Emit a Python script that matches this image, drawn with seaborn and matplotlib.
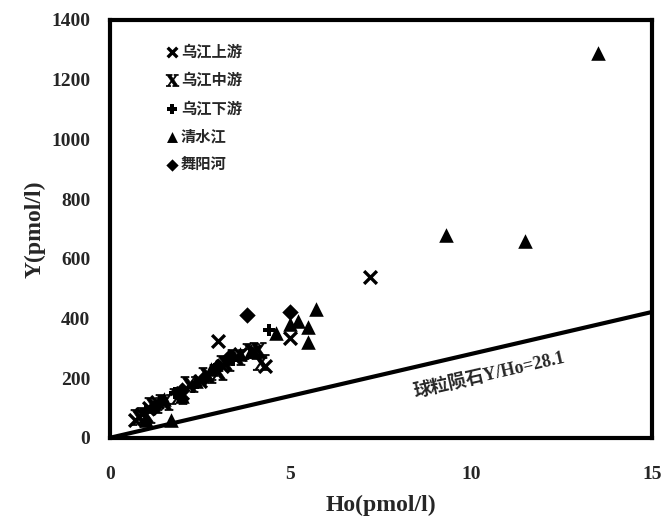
import matplotlib
matplotlib.use("Agg")
import matplotlib.pyplot as plt
import seaborn as sns
import numpy as np
import pandas as pd

# data (Ho, Y in pmol/l)
upper_ho = [0.7, 0.9, 1.1, 1.3, 2.0, 2.5, 3.0, 3.1, 3.6, 4.0, 4.3, 5.0, 7.2]
upper_y = [60, 80, 100, 120, 150, 190, 325, 240, 280, 290, 240, 335, 540]
middle_ho = [0.8, 1.0, 1.2, 1.5, 1.9, 2.2, 2.7, 3.0, 3.2, 3.5, 3.9, 4.1, 4.2]
middle_y = [70, 75, 110, 120, 140, 180, 210, 220, 250, 270, 290, 295, 255]
lower_ho = [1.0, 1.4, 1.8, 2.3, 2.9, 3.4, 4.4]
lower_y = [90, 120, 150, 170, 230, 260, 360]
qsj_ho = [1.0, 1.7, 1.5, 2.0, 2.4, 2.8, 3.6, 3.9, 4.6, 5.0, 5.2, 5.5, 5.5, 5.7, 9.3, 11.5, 13.5]
qsj_y = [60, 60, 130, 140, 190, 230, 280, 290, 350, 380, 390, 370, 320, 430, 680, 660, 1290]
wyh_ho = [1.2, 2.0, 2.6, 3.0, 3.3, 3.8, 5.0]
wyh_y = [100, 160, 200, 240, 270, 410, 420]
series_names = ["乌江上游", "乌江中游", "乌江下游", "清水江", "舞阳河"]
chondrite_ratio = 28.1
x_ticks = [0, 5, 10, 15]
y_ticks = [0, 200, 400, 600, 800, 1000, 1200, 1400]

sns.set_style("white")
plt.rcParams['font.family'] = ['Liberation Serif', 'Noto Sans CJK SC']
plt.rcParams['font.weight'] = 'bold'
plt.rcParams['mathtext.fontset'] = 'dejavuserif'

fig = plt.figure(figsize=(6.61, 5.25), dpi=100)
ax = fig.add_axes([0.166, 0.166, 0.82, 0.796])

series = [(upper_ho, upper_y, 'x', 85, 2.4),
          (middle_ho, middle_y, r'$\mathbf{X}$', 150, 0.5),
          (lower_ho, lower_y, 'P', 80, 0),
          (qsj_ho, qsj_y, '^', 110, 0),
          (wyh_ho, wyh_y, 'D', 70, 0)]
for (xs, ys, mk, sz, lw), name in zip(series, series_names):
    df = pd.DataFrame({'Ho': xs, 'Y': ys})
    sns.scatterplot(data=df, x='Ho', y='Y', marker=mk, s=sz, color='black',
                    edgecolor='black', linewidth=lw, label=name, ax=ax)

# chondrite line
line_x = np.array([0, 15])
sns.lineplot(x=line_x, y=chondrite_ratio * line_x, color='black', linewidth=3, ax=ax, legend=False)
ax.text(10.5, 212, "球粒陨石Y/Ho=28.1", rotation=13, ha='center', va='center',
        fontsize=13, fontweight='bold')

ax.set_xlim(0, 15)
ax.set_ylim(0, 1400)
ax.set_xticks(x_ticks)
ax.set_yticks(y_ticks)
ax.tick_params(direction='in', length=5, width=2, labelsize=14)
ax.tick_params(axis='x', pad=20)
ax.tick_params(axis='y', pad=14)
for lbl in ax.get_xticklabels() + ax.get_yticklabels():
    lbl.set_fontweight('bold')
for sp in ax.spines.values():
    sp.set_linewidth(3)
    sp.set_color('black')
ax.set_xlabel("Ho(pmol/l)", fontsize=17, fontweight='bold', labelpad=9)
ax.set_ylabel("Y(pmol/l)", fontsize=17, fontweight='bold', labelpad=4)

leg = ax.legend(loc='upper left', bbox_to_anchor=(0.075, 0.975), frameon=False,
                prop={'size': 11, 'weight': 'bold'}, handletextpad=0.1,
                markerscale=0.75, labelspacing=0.9, handlelength=1.0)

fig.savefig("out.png", dpi=100)
